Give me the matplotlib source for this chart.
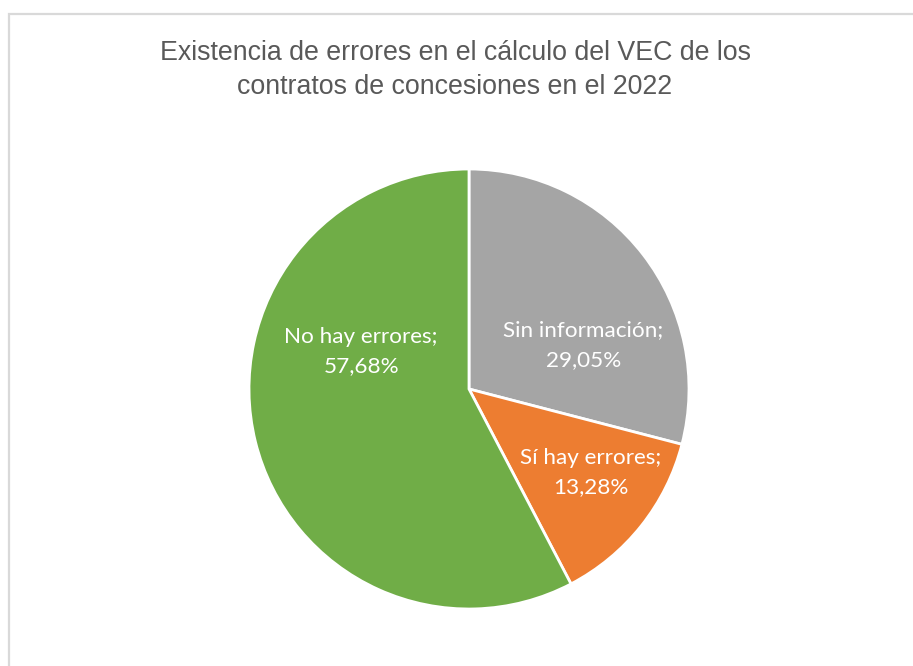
import matplotlib.pyplot as plt
from matplotlib.patches import Rectangle

categories = ['Sin información', 'Sí hay errores', 'No hay errores']
shares = [29.05, 13.28, 57.68]
colors = ['#A5A5A5', '#ED7D31', '#70AD47']
title = 'Existencia de errores en el cálculo del VEC de los\ncontratos de concesiones en el 2022'

W, H = 913, 666
fig = plt.figure(figsize=(W / 100, H / 100), dpi=100)

# light gray chart frame
fig.patches.append(Rectangle((9 / W, -0.05), 1.1, (H - 14) / H + 0.05,
                             transform=fig.transFigure, fill=False,
                             edgecolor='#D9D9D9', linewidth=1.6))

fig.text(455 / W, 1 - 70 / H, title, ha='center', va='center',
         fontsize=19.3, color='#595959', family='Liberation Sans',
         linespacing=1.45)

ax = fig.add_axes([249 / W, 57 / H, 440 / W, 440 / H])
wedges, _ = ax.pie(shares, colors=colors, startangle=90, counterclock=False,
                   radius=1.0, wedgeprops=dict(edgecolor='white', linewidth=2))
ax.set_xlim(-1, 1)
ax.set_ylim(-1, 1)
ax.set_aspect('auto')
ax.axis('off')

# label anchor points, in pie units
label_pos = [(0.52, 0.20), (0.555, -0.38), (-0.49, 0.17)]
for name, val, (x, y) in zip(categories, shares, label_pos):
    txt = f'{name};\n{val:.2f}%'.replace('.', ',')
    ax.text(x, y, txt, ha='center', va='center', color='white',
            fontsize=16.2, family='Lato', linespacing=1.6)

fig.savefig('out.png', dpi=100)
